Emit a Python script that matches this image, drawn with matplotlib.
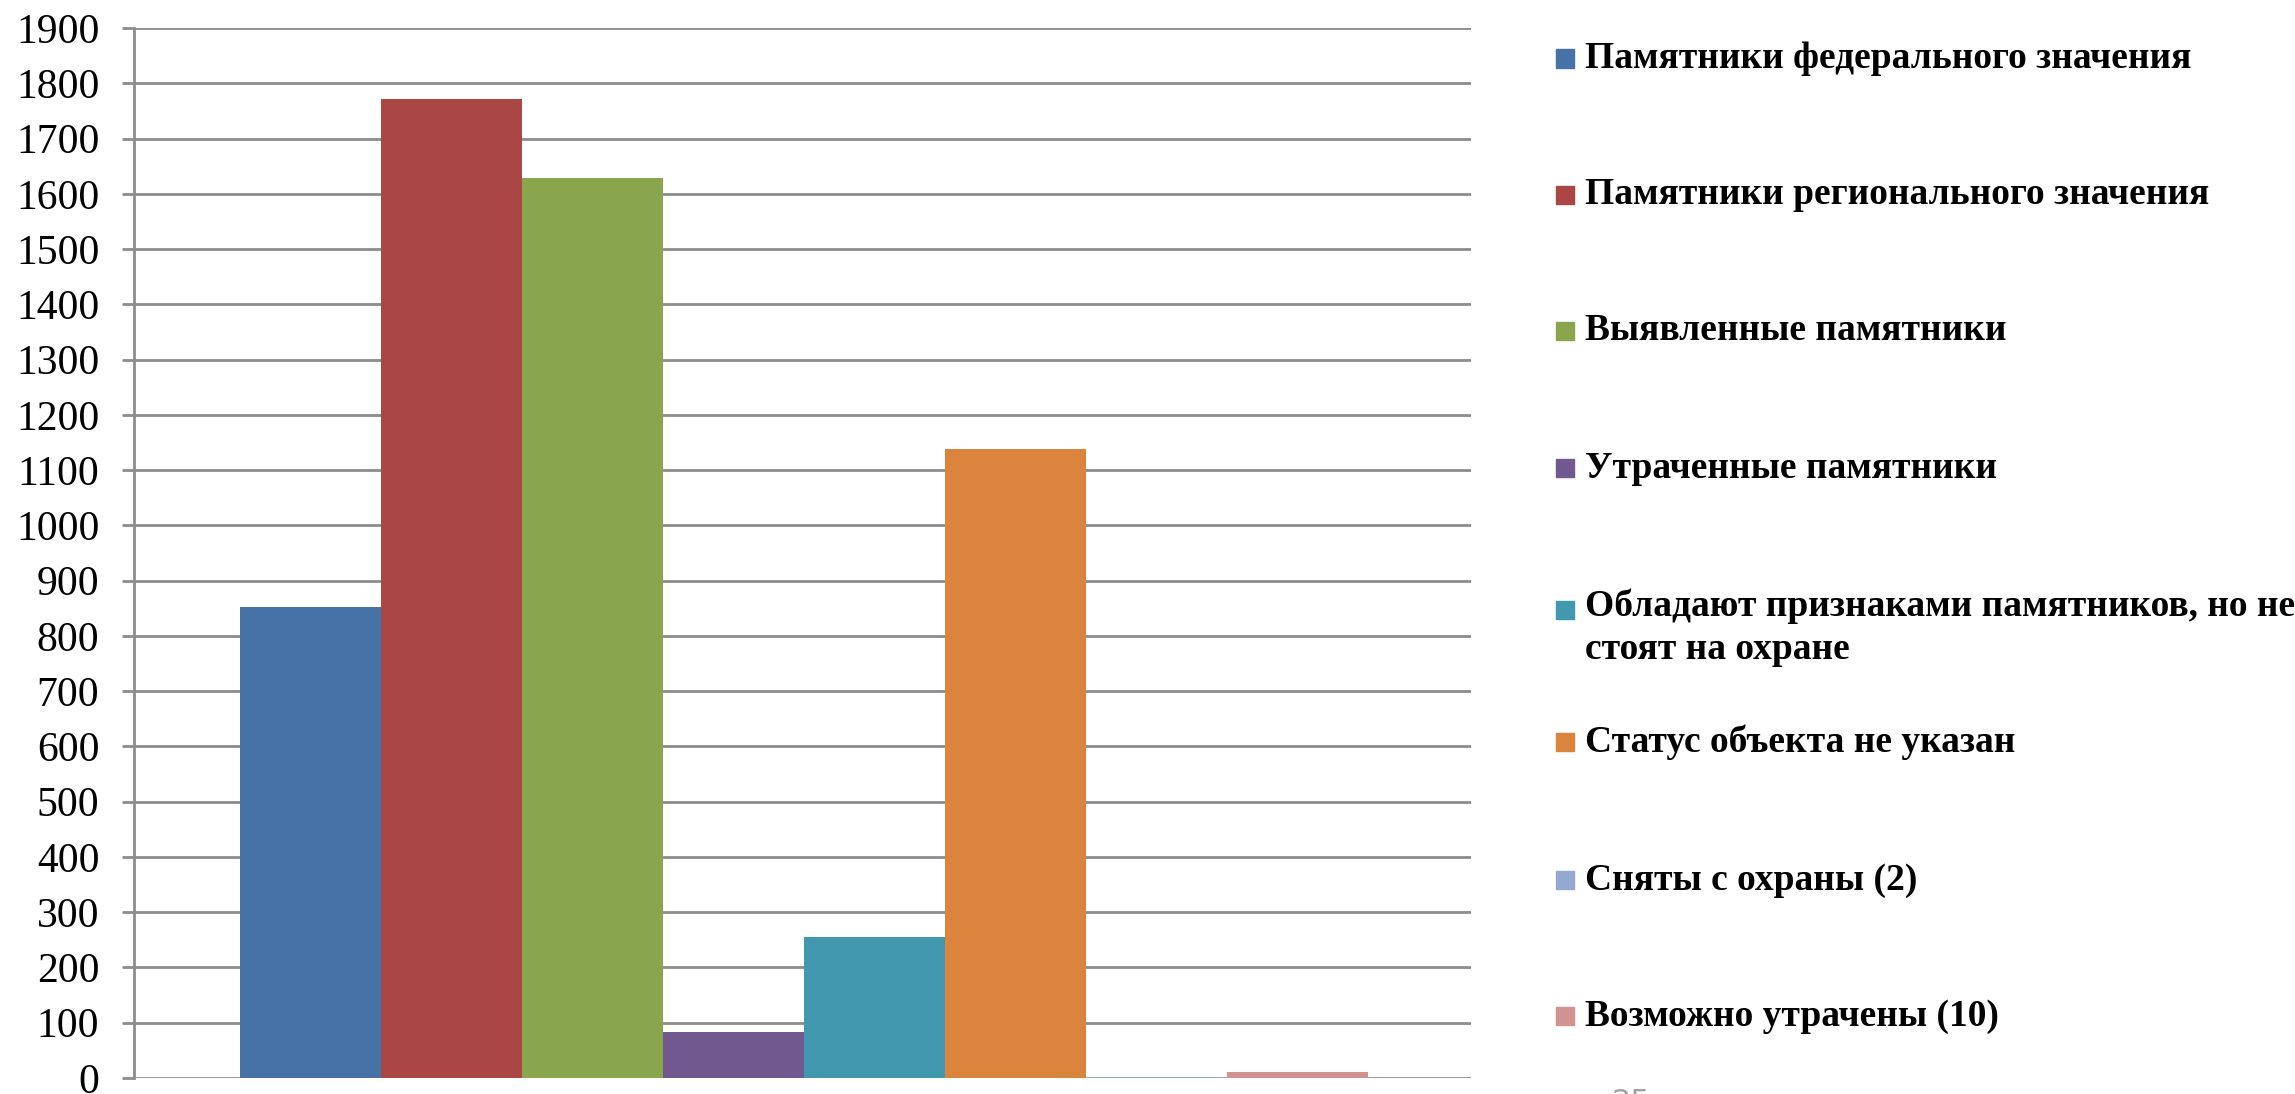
"""Bar chart: status of cultural heritage objects."""

import matplotlib

matplotlib.use("Agg")
import matplotlib.pyplot as plt
from matplotlib.patches import Rectangle

# data
labels = [
    "Памятники федерального значения",
    "Памятники регионального значения",
    "Выявленные памятники",
    "Утраченные памятники",
    "Обладают признаками памятников, но не\nстоят на охране",
    "Статус объекта не указан",
    "Сняты с охраны (2)",
    "Возможно утрачены (10)",
]
values = [853, 1771, 1629, 84, 256, 1138, 2, 10]
colors = ["#4672A8", "#AA4643", "#89A54E", "#71588F",
          "#4198AF", "#DB843D", "#93A9CF", "#D19392"]
yticks = list(range(0, 2000, 100))

plt.rcParams["font.family"] = ["Liberation Serif", "DejaVu Serif"]

W, H = 2295, 1094
fig = plt.figure(figsize=(W / 100, H / 100), dpi=100)
ax = fig.add_axes([134 / W, 16 / H, (1471 - 134) / W, (1078 - 28) / H])

# one category, eight series side by side
xs = list(range(len(values)))
ax.bar(xs, values, width=1.0, color=colors, linewidth=0, zorder=3)

ax.set_xlim(-1.252, 8.23)
ax.set_ylim(0, 1900)
ax.set_yticks(yticks)
ax.set_yticklabels([str(t) for t in yticks], fontsize=30)
ax.set_xticks([])
ax.yaxis.grid(True, color="#8c8c8c", linewidth=2.0, zorder=0)
ax.tick_params(axis="y", length=9, width=2.0, color="#8c8c8c", pad=16)
for side in ["top", "right", "bottom"]:
    ax.spines[side].set_visible(False)
ax.spines["left"].set_color("#8c8c8c")
ax.spines["left"].set_linewidth(2.0)

# legend drawn by hand so entries are evenly spaced like the original
legend_y = [58.5, 194.7, 330.8, 468, 628, 742, 880, 1016]
for lab, col, yc in zip(labels, colors, legend_y):
    yf = 1 - yc / H
    if "\n" in lab:
        ym = 1 - 610 / H
    else:
        ym = yf
    fig.patches.append(Rectangle((1556 / W, ym - 9 / H), 18 / W, 18 / H,
                                 transform=fig.transFigure, color=col))
    fig.text(1585 / W, yf, lab, fontsize=27, fontweight="bold",
             va="center", ha="left", linespacing=1.3)

# slide page number, cut off at the bottom
fig.text(1612 / W, 6 / H, "25", fontsize=22, color="#a0a0a0",
         family="DejaVu Sans", va="top", ha="left")

fig.savefig("out.png", dpi=100)
